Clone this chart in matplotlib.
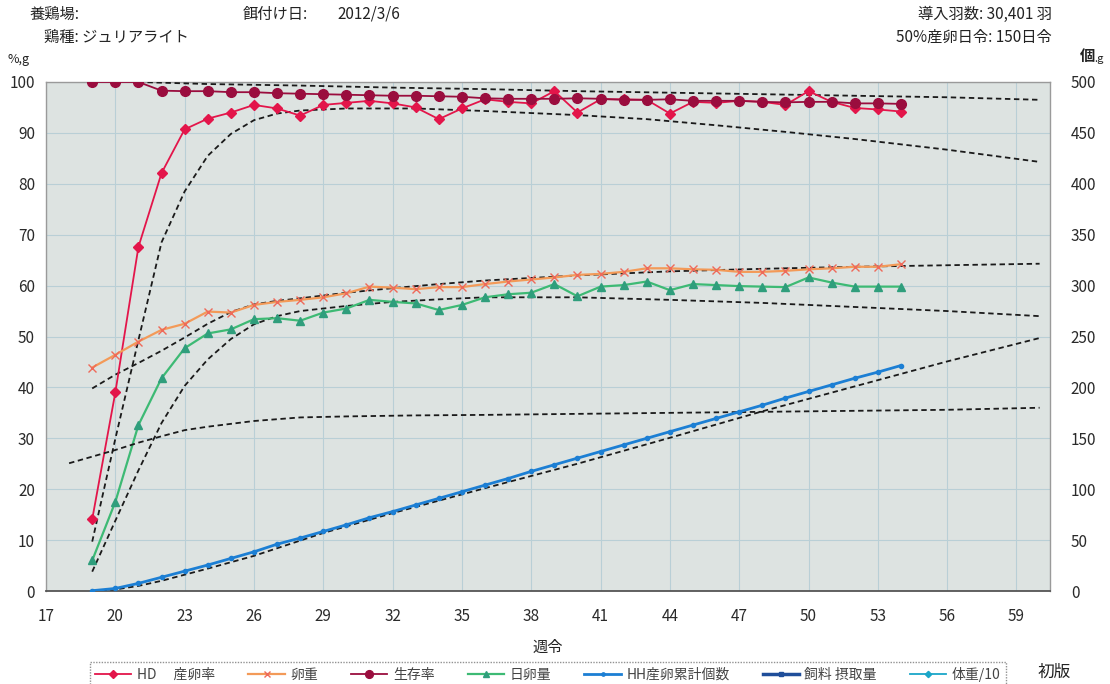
import numpy as np
import matplotlib
matplotlib.use('Agg')
import matplotlib.pyplot as plt

plt.rcParams['font.family'] = ['Noto Sans CJK JP', 'DejaVu Sans']

# weeks of age with records
weeks = list(range(19, 55))

# HD hen-day laying rate (%)
hd_rate = [14.1, 39.0, 67.6, 82.1, 90.7, 92.8, 94.0, 95.5, 94.8, 93.4, 95.5, 95.9,
           96.3, 95.8, 95.0, 92.7, 94.8, 96.6, 96.1, 95.8, 98.2, 94.0, 96.6, 96.6,
           96.5, 93.8, 96.1, 95.9, 96.3, 96.1, 95.5, 98.2, 96.1, 94.9, 94.6, 94.2]
# survival rate (%)
survival = [100, 100, 100, 98.3, 98.2, 98.2, 98.0, 98.0, 97.8, 97.7, 97.6, 97.5,
            97.4, 97.3, 97.3, 97.2, 97.1, 96.8, 96.7, 96.7, 96.7, 96.8, 96.7, 96.5,
            96.5, 96.6, 96.3, 96.3, 96.3, 96.1, 96.0, 96.1, 96.1, 95.8, 95.8, 95.7]
# egg weight (g)
egg_weight = [43.9, 46.4, 49.0, 51.3, 52.5, 54.9, 54.7, 56.2, 56.8, 57.2, 57.7, 58.5,
              59.8, 59.6, 59.3, 59.7, 59.7, 60.3, 60.8, 61.2, 61.6, 62.1, 62.3, 62.7,
              63.4, 63.4, 63.2, 63.1, 62.7, 62.7, 62.9, 63.2, 63.4, 63.7, 63.7, 64.2]
# daily egg mass (g)
egg_mass = [6.0, 17.5, 32.6, 41.8, 47.7, 50.6, 51.4, 53.4, 53.6, 53.1, 54.7, 55.5,
            57.2, 56.8, 56.5, 55.2, 56.2, 57.7, 58.3, 58.6, 60.3, 57.9, 59.8, 60.1,
            60.8, 59.1, 60.3, 60.1, 59.9, 59.8, 59.7, 61.6, 60.6, 59.8, 59.8, 59.8]
# HH cumulative eggs per hen (right axis)
hh_cum = [0.3, 2.5, 7.5, 13.5, 19.5, 25.5, 32, 38.5, 46, 52, 58.5, 65, 72, 78, 84.5,
          91, 97.5, 104, 110.5, 117.5, 124, 130.5, 137, 143.5, 150, 156.5, 163, 169.5,
          176, 182.5, 189.5, 196, 202.5, 209, 215, 221.5]
# no records for these two
feed_intake = []
body_weight = []

# breed standards (dashed)
std_surv_w = [21, 24, 28, 32, 36, 40, 44, 48, 52, 56, 60]
std_surv = [100, 99.6, 99.3, 98.9, 98.6, 98.2, 97.9, 97.6, 97.3, 97.0, 96.5]
std_hd_w = [19, 20, 21, 22, 23, 24, 25, 26, 27, 28, 30, 33, 36, 40, 43, 46, 49, 52, 56, 60]
std_hd = [9.7, 29.9, 49.3, 68.5, 78.5, 85.5, 89.8, 92.5, 93.8, 94.4, 94.8, 94.8,
          94.3, 93.5, 92.7, 91.5, 90.2, 88.8, 86.7, 84.3]
std_ew_w = [19, 20, 21, 22, 23, 24, 25, 26, 27, 28, 30, 32, 34, 36, 40, 44, 48, 52, 56, 60]
std_ew = [39.8, 42.5, 44.8, 47.2, 49.8, 52.5, 54.8, 56.3, 57.0, 57.5, 58.6, 59.5,
          60.3, 61.0, 62.0, 62.8, 63.3, 63.7, 64.0, 64.3]
std_em_w = [19, 20, 21, 22, 23, 24, 25, 26, 27, 28, 30, 32, 34, 36, 40, 44, 48, 52, 56, 60]
std_em = [3.8, 13.8, 23.7, 33.0, 40.3, 45.5, 49.5, 52.4, 54.0, 55.0, 56.0, 56.8,
          57.3, 57.7, 57.7, 57.2, 56.6, 55.8, 55.0, 54.0]
std_bw_w = [18, 19, 20, 21, 22, 23, 24, 26, 28, 30, 33, 36, 40, 44, 48, 52, 56, 60]
std_bw = [125.5, 132, 138.5, 145.7, 152, 158, 161.4, 167, 170.5, 171.5, 172.5, 173,
          174, 175, 176, 177, 178, 180]
std_cum_w = [19, 20, 21, 22, 23, 24, 26, 29, 32, 36, 40, 44, 48, 52, 56, 60]
std_cum = [0, 1.5, 5, 10, 16, 22, 34.5, 57, 76.5, 101, 125, 150.5, 176.5, 201, 225.5, 248.5]

fig = plt.figure(figsize=(11.1, 6.84), dpi=100)
ax = fig.add_axes([46/1110, 1-591/684, 1004/1110, 509/684])
ax2 = ax.twinx()
ax.set_facecolor('#dde3e1')

dash = dict(color='#1a1a1a', linestyle=(0, (3, 2)), linewidth=1.3, zorder=4)
ax.plot(std_surv_w, std_surv, **dash)
ax.plot(std_hd_w, std_hd, **dash)
ax.plot(std_ew_w, std_ew, **dash)
ax.plot(std_em_w, std_em, **dash)

l_hd, = ax.plot(weeks, hd_rate, color='#e3154a', marker='D', markersize=5, linewidth=1.3,
                label='HD\u3000 産卵率', zorder=5)
l_ew, = ax.plot(weeks, egg_weight, color='#f39a58', marker='x', markersize=6,
                markeredgecolor='#ee6a5a', linewidth=1.6, label='卵重', zorder=5)
l_sv, = ax.plot(weeks, survival, color='#9a0d3e', marker='o', markersize=7, linewidth=1.3,
                label='生存率', zorder=6)
l_em, = ax.plot(weeks, egg_mass, color='#3dba74', marker='^', markersize=6,
                markerfacecolor='#2f9e7c', markeredgecolor='#2f9e7c', linewidth=1.6,
                label='日卵量', zorder=5)

ax2.plot(std_bw_w, std_bw, **dash)
ax2.plot(std_cum_w, std_cum, **dash)
l_hh, = ax2.plot(weeks, hh_cum, color='#1c7fd4', marker='o', markersize=3, linewidth=2,
                 label='HH産卵累計個数', zorder=5)
l_fi, = ax2.plot(feed_intake, feed_intake, color='#1f4e9a', marker='s', markersize=3,
                 linewidth=2.5, label='飼料 摂取量')
l_bw, = ax2.plot(body_weight, body_weight, color='#1aa6c8', marker='D', markersize=4,
                 linewidth=1.3, label='体重/10')

ax.set_xlim(17, 60.45)
ax.set_ylim(0, 100)
ax2.set_ylim(0, 500)
ax.set_xticks(range(17, 60, 3))
ax.set_yticks(range(0, 101, 10))
ax2.set_yticks(range(0, 501, 50))
ax.grid(True, color='#b9cfd6', linewidth=0.8)
ax.set_axisbelow(True)

for a in (ax, ax2):
    a.tick_params(length=0, labelsize=11, colors='#2a2a2a')
    for s in a.spines.values():
        s.set_visible(False)
ax.tick_params(axis='y', pad=8)
ax.tick_params(axis='x', pad=12)
ax2.tick_params(axis='y', pad=15)
for side in ('left', 'right', 'top'):
    ax.spines[side].set_visible(True)
    ax.spines[side].set_color('#9a9a9a')
    ax.spines[side].set_linestyle((0, (1, 1)))
    ax.spines[side].set_linewidth(1)
ax.spines['bottom'].set_visible(True)
ax.spines['bottom'].set_color('#555555')
ax.spines['bottom'].set_linestyle((0, (1, 1)))
ax.spines['bottom'].set_linewidth(1.3)

ax.set_xlabel('週令', fontsize=11, color='#222222', labelpad=10)

# header texts
tc = '#222222'
fig.text(30/1110, 1-14/684, '養鶏場:', fontsize=11, color=tc, va='center')
fig.text(44/1110, 1-37/684, '鶏種: ジュリアライト', fontsize=11, color=tc, va='center')
fig.text(243/1110, 1-14/684, '餌付け日:', fontsize=11, color=tc, va='center')
fig.text(337/1110, 1-14/684, '2012/3/6', fontsize=11, color=tc, va='center')
fig.text(1052/1110, 1-14/684, '導入羽数: 30,401 羽', fontsize=11, color=tc,
         va='center', ha='right')
fig.text(1052/1110, 1-37/684, '50%産卵日令: 150日令', fontsize=11, color=tc,
         va='center', ha='right')
fig.text(8/1110, 1-59/684, '%,g', fontsize=9, color=tc, va='center')
fig.text(1080/1110, 1-56/684, '個', fontsize=11, color=tc, va='center', fontweight='bold')
fig.text(1094/1110, 1-59/684, '.g', fontsize=8, color=tc, va='center')
fig.text(1038/1110, 1-672/684, '初版', fontsize=12, color=tc, va='center')

leg = fig.legend(handles=[l_hd, l_ew, l_sv, l_em, l_hh, l_fi, l_bw],
                 loc='upper center', bbox_to_anchor=(548/1110, 1-655/684),
                 ncol=7, fontsize=10, frameon=True, fancybox=False,
                 handlelength=2.6, handletextpad=0.4, columnspacing=2.4,
                 borderpad=0.35, markerscale=0.8)
leg.get_frame().set_edgecolor('#777777')
leg.get_frame().set_linestyle((0, (1, 1)))
for t in leg.get_texts():
    t.set_color('#444444')

fig.savefig('out.png', dpi=100)
